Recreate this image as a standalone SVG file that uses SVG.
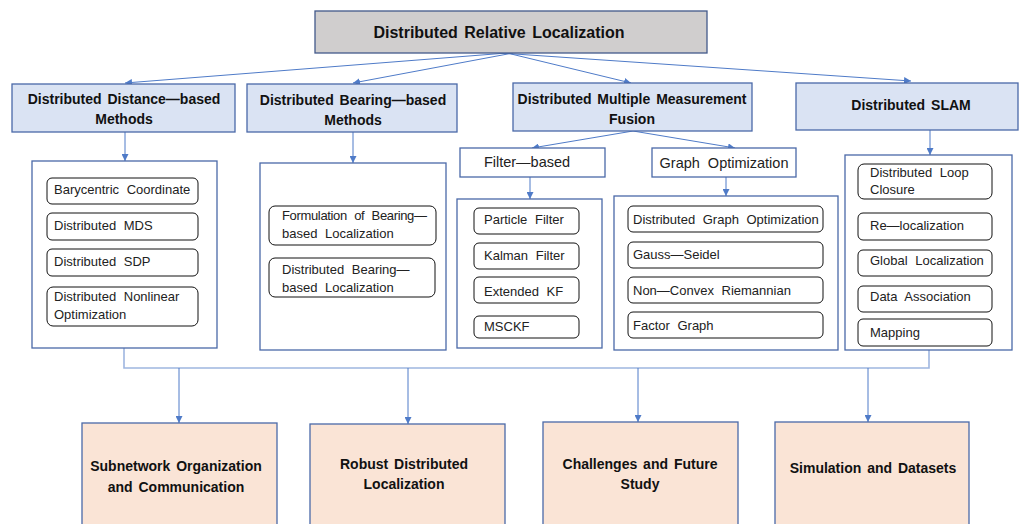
<svg xmlns="http://www.w3.org/2000/svg" width="1019" height="524" viewBox="0 0 1019 524">
  <style>
    text { font-family: "Liberation Sans", Arial, sans-serif; fill: #111; }
    .title { font-size: 16px; font-weight: bold; word-spacing: 2px; text-anchor: middle; dominant-baseline: central; }
    .head { font-size: 14px; font-weight: bold; word-spacing: 2px; text-anchor: middle; dominant-baseline: central; }
    .sub { font-size: 14.5px; word-spacing: 4px; text-anchor: middle; dominant-baseline: central; fill: #222; }
    .item { font-size: 13px; word-spacing: 4px; dominant-baseline: central; fill: #222; }
    .root { fill: #d0cece; stroke: #42598a; stroke-width: 1.3; }
    .cat { fill: #dae3f3; stroke: #4a69a8; stroke-width: 1.3; }
    .box { fill: #ffffff; stroke: #4a69a8; stroke-width: 1.3; }
    .topic { fill: #fae4d6; stroke: #4a69a8; stroke-width: 1.3; }
    .leaf { fill: #ffffff; stroke: #111; stroke-width: 1; }
    .conn { fill: none; stroke: #4f7bc8; stroke-width: 1; }
    .bus { fill: none; stroke: #9fb6e0; stroke-width: 1.6; }
  </style>
  <defs>
    <marker id="arrow" viewBox="0 0 8 8" refX="8" refY="4" markerWidth="7" markerHeight="7" markerUnits="userSpaceOnUse" orient="auto">
      <path d="M0,0 L8,4 L0,8 Z" fill="#4f7bc8"/>
    </marker>
  </defs>

  <!-- connectors -->
  <g id="connectors">
    <line class="conn" x1="507" y1="53" x2="125" y2="83" marker-end="url(#arrow)"/>
    <line class="conn" x1="513" y1="53" x2="353" y2="83" marker-end="url(#arrow)"/>
    <line class="conn" x1="507" y1="53" x2="631" y2="83" marker-end="url(#arrow)"/>
    <line class="conn" x1="500" y1="53" x2="911" y2="81" marker-end="url(#arrow)"/>

    <line class="conn" x1="125" y1="132" x2="125" y2="161" marker-end="url(#arrow)"/>
    <line class="conn" x1="353" y1="132" x2="353" y2="163" marker-end="url(#arrow)"/>
    <line class="conn" x1="633" y1="131" x2="532" y2="148" marker-end="url(#arrow)"/>
    <line class="conn" x1="633" y1="131" x2="735" y2="148" marker-end="url(#arrow)"/>
    <line class="conn" x1="930" y1="130" x2="930" y2="155" marker-end="url(#arrow)"/>

    <line class="conn" x1="530" y1="177" x2="530" y2="199" marker-end="url(#arrow)"/>
    <line class="conn" x1="726" y1="177" x2="726" y2="196" marker-end="url(#arrow)"/>

    <polyline class="bus" points="124,348 124,368 929,368 929,350"/>
    <line class="conn" x1="179" y1="368" x2="179" y2="423" marker-end="url(#arrow)"/>
    <line class="conn" x1="408" y1="368" x2="408" y2="424" marker-end="url(#arrow)"/>
    <line class="conn" x1="638" y1="368" x2="638" y2="422" marker-end="url(#arrow)"/>
    <line class="conn" x1="868" y1="368" x2="868" y2="422" marker-end="url(#arrow)"/>
  </g>

  <!-- root -->
  <g id="root">
    <rect class="root" x="315" y="11" width="392" height="42"/>
    <text class="title" x="499" y="32">Distributed Relative Localization</text>
  </g>

  <!-- main categories -->
  <g id="distance-based">
    <rect class="cat" x="12" y="84" width="223" height="48"/>
    <text class="head" x="124" y="99">Distributed Distance—based</text>
    <text class="head" x="124" y="119">Methods</text>
  </g>
  <g id="bearing-based">
    <rect class="cat" x="247" y="84" width="210" height="48"/>
    <text class="head" x="353" y="100">Distributed Bearing—based</text>
    <text class="head" x="353" y="120">Methods</text>
  </g>
  <g id="multiple-measurement">
    <rect class="cat" x="513" y="83" width="239" height="48"/>
    <text class="head" x="632" y="99">Distributed Multiple Measurement</text>
    <text class="head" x="632" y="119">Fusion</text>
  </g>
  <g id="slam">
    <rect class="cat" x="796" y="83" width="222" height="47"/>
    <text class="head" x="911" y="105">Distributed SLAM</text>
  </g>

  <!-- distance-based methods -->
  <g id="distance-list">
    <rect class="box" x="32" y="161" width="185" height="187"/>
    <rect class="leaf" x="47" y="178" width="151" height="26" rx="5"/>
    <text class="item" x="54" y="189">Barycentric Coordinate</text>
    <rect class="leaf" x="47" y="213" width="151" height="27" rx="5"/>
    <text class="item" x="54" y="225">Distributed MDS</text>
    <rect class="leaf" x="47" y="249" width="151" height="27" rx="5"/>
    <text class="item" x="54" y="261">Distributed SDP</text>
    <rect class="leaf" x="47" y="287" width="151" height="39" rx="6"/>
    <text class="item" x="54" y="296">Distributed Nonlinear</text>
    <text class="item" x="54" y="314">Optimization</text>
  </g>

  <!-- bearing-based methods -->
  <g id="bearing-list">
    <rect class="box" x="260" y="163" width="186" height="187"/>
    <rect class="leaf" x="269" y="206" width="167" height="39" rx="6"/>
    <text class="item" x="282" y="215" textLength="145" lengthAdjust="spacing">Formulation of Bearing—</text>
    <text class="item" x="282" y="233">based Localization</text>
    <rect class="leaf" x="269" y="258" width="166" height="39" rx="6"/>
    <text class="item" x="282" y="269">Distributed Bearing—</text>
    <text class="item" x="282" y="287">based Localization</text>
  </g>

  <!-- fusion sub-categories -->
  <g id="filter-based">
    <rect class="box" x="460" y="148" width="145" height="29"/>
    <text class="sub" x="527" y="162">Filter—based</text>
  </g>
  <g id="graph-optimization">
    <rect class="box" x="652" y="148" width="144" height="29"/>
    <text class="sub" x="724" y="163">Graph Optimization</text>
  </g>

  <g id="filter-list">
    <rect class="box" x="457" y="199" width="145" height="149"/>
    <rect class="leaf" x="474" y="208" width="105" height="26" rx="5"/>
    <text class="item" x="484" y="219">Particle Filter</text>
    <rect class="leaf" x="474" y="243" width="105" height="26" rx="5"/>
    <text class="item" x="484" y="255">Kalman Filter</text>
    <rect class="leaf" x="474" y="277" width="105" height="26" rx="5"/>
    <text class="item" x="484" y="291">Extended KF</text>
    <rect class="leaf" x="474" y="316" width="105" height="22" rx="5"/>
    <text class="item" x="484" y="326">MSCKF</text>
  </g>

  <g id="graph-list">
    <rect class="box" x="614" y="196" width="224" height="154"/>
    <rect class="leaf" x="628" y="206" width="195" height="26" rx="5"/>
    <text class="item" x="633" y="219">Distributed Graph Optimization</text>
    <rect class="leaf" x="628" y="242" width="195" height="26" rx="5"/>
    <text class="item" x="633" y="254">Gauss—Seidel</text>
    <rect class="leaf" x="628" y="277" width="195" height="26" rx="5"/>
    <text class="item" x="633" y="290">Non—Convex Riemannian</text>
    <rect class="leaf" x="628" y="312" width="195" height="26" rx="5"/>
    <text class="item" x="633" y="325">Factor Graph</text>
  </g>

  <!-- SLAM topics -->
  <g id="slam-list">
    <rect class="box" x="845" y="155" width="167" height="195"/>
    <rect class="leaf" x="858" y="164" width="134" height="35" rx="6"/>
    <text class="item" x="870" y="172">Distributed Loop</text>
    <text class="item" x="870" y="189">Closure</text>
    <rect class="leaf" x="858" y="213" width="134" height="27" rx="5"/>
    <text class="item" x="870" y="225">Re—localization</text>
    <rect class="leaf" x="858" y="250" width="134" height="26" rx="5"/>
    <text class="item" x="870" y="260">Global Localization</text>
    <rect class="leaf" x="858" y="286" width="134" height="26" rx="5"/>
    <text class="item" x="870" y="296">Data Association</text>
    <rect class="leaf" x="858" y="319" width="134" height="27" rx="5"/>
    <text class="item" x="870" y="332">Mapping</text>
  </g>

  <!-- closing topics -->
  <g id="subnetwork">
    <rect class="topic" x="82" y="423" width="195" height="110"/>
    <text class="head" x="176" y="466">Subnetwork Organization</text>
    <text class="head" x="176" y="487">and Communication</text>
  </g>
  <g id="robust">
    <rect class="topic" x="310" y="424" width="195" height="110"/>
    <text class="head" x="404" y="464">Robust Distributed</text>
    <text class="head" x="404" y="484">Localization</text>
  </g>
  <g id="challenges">
    <rect class="topic" x="543" y="422" width="195" height="110"/>
    <text class="head" x="640" y="464">Challenges and Future</text>
    <text class="head" x="640" y="484">Study</text>
  </g>
  <g id="simulation">
    <rect class="topic" x="775" y="422" width="194" height="110"/>
    <text class="head" x="873" y="468">Simulation and Datasets</text>
  </g>
</svg>
